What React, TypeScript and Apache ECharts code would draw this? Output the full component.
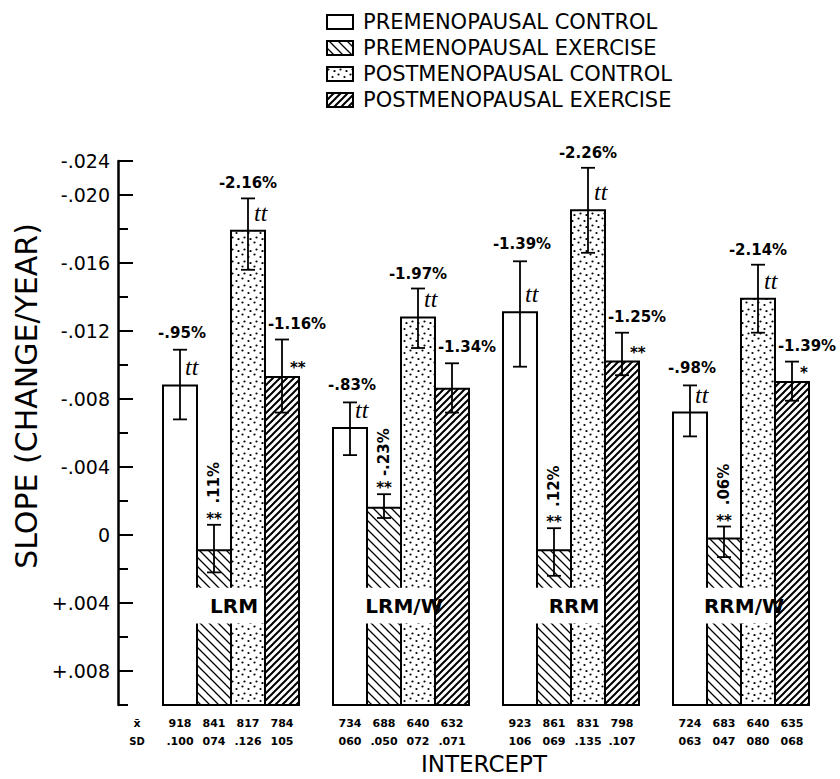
import React, { useEffect, useRef } from "react";
import * as echarts from "echarts";

// ---------------- data ----------------
const categories = ["LRM", "LRM/W", "RRM", "RRM/W"];
const seriesNames = [
  "PREMENOPAUSAL CONTROL",
  "PREMENOPAUSAL EXERCISE",
  "POSTMENOPAUSAL CONTROL",
  "POSTMENOPAUSAL EXERCISE",
];

// slope values (negative = loss, drawn upward) with error-bar ends
const preControl = [-0.0088, -0.0063, -0.0131, -0.0072];
const preControlHi = [-0.0109, -0.0078, -0.0161, -0.0088];
const preControlLo = [-0.0068, -0.0047, -0.0099, -0.0058];

const preExercise = [0.0009, -0.0016, 0.0009, 0.0002];
const preExerciseHi = [-0.0006, -0.0024, -0.0004, -0.0005];
const preExerciseLo = [0.0022, -0.001, 0.0024, 0.0013];

const postControl = [-0.0179, -0.0128, -0.0191, -0.0139];
const postControlHi = [-0.0198, -0.0145, -0.0216, -0.0159];
const postControlLo = [-0.0156, -0.011, -0.0166, -0.0119];

const postExercise = [-0.0093, -0.0086, -0.0102, -0.009];
const postExerciseHi = [-0.0115, -0.0101, -0.0119, -0.0102];
const postExerciseLo = [-0.0072, -0.0072, -0.0094, -0.0079];

// annotations
const pctPreControl = ["-.95%", "-.83%", "-1.39%", "-.98%"];
const pctPreExercise = [".11%", "-.23%", ".12%", ".06%"];
const pctPostControl = ["-2.16%", "-1.97%", "-2.26%", "-2.14%"];
const pctPostExercise = ["-1.16%", "-1.34%", "-1.25%", "-1.39%"];

const sigPreControl = ["tt", "tt", "tt", "tt"];
const sigPreExercise = ["**", "**", "**", "**"];
const sigPostControl = ["tt", "tt", "tt", "tt"];
const sigPostExercise = ["**", "", "**", "*"];

// intercept means and SDs printed under the bars
const meanLabels = [
  ["918", "841", "817", "784"],
  ["734", "688", "640", "632"],
  ["923", "861", "831", "798"],
  ["724", "683", "640", "635"],
];
const sdLabels = [
  [".100", "074", ".126", "105"],
  ["060", ".050", "072", ".071"],
  ["106", "069", ".135", ".107"],
  ["063", "047", "080", "068"],
];

// axis
const yMin = -0.022;
const yMax = 0.01;
const yInterval = 0.002;
const yLabelValues = [-0.022, -0.02, -0.016, -0.012, -0.008, -0.004, 0, 0.004, 0.008];
const yLabelTexts = ["-.024", "-.020", "-.016", "-.012", "-.008", "-.004", "0", "+.004", "+.008"];
const yMajorTicks = [-0.022, -0.02, -0.016, -0.012, -0.008, -0.004, 0, 0.004, 0.008];

// white break in the bars where the measure name sits
const labelGap = [0.0031, 0.0052];
const labelValue = 0.0042;

// ---------------- helpers ----------------
function tile(w: number, h: number, draw: (g: CanvasRenderingContext2D) => void) {
  const c = document.createElement("canvas");
  c.width = w;
  c.height = h;
  const g = c.getContext("2d") as CanvasRenderingContext2D;
  g.fillStyle = "#fff";
  g.fillRect(0, 0, w, h);
  g.fillStyle = "#000";
  g.strokeStyle = "#000";
  draw(g);
  return { image: c.toDataURL(), repeat: "repeat", imageWidth: w, imageHeight: h };
}

function buildPatterns() {
  const back = tile(9, 9, (g) => {
    const s = 9;
    g.lineWidth = 1.3;
    g.beginPath();
    for (let k = -1; k <= 1; k++) {
      g.moveTo(k * s - 2, -2);
      g.lineTo(k * s + s + 2, s + 2);
    }
    g.stroke();
  });
  const fwd = tile(7, 7, (g) => {
    const s = 7;
    g.lineWidth = 2;
    g.beginPath();
    for (let k = 0; k <= 2; k++) {
      g.moveTo(k * s + 2, -2);
      g.lineTo(k * s - s - 2, s + 2);
    }
    g.stroke();
  });
  const dots = tile(12, 12, (g) => {
    const pts = [
      [2.5, 2.5],
      [8.5, 5],
      [4.5, 9.5],
      [10.5, 11],
    ];
    pts.forEach(([x, y]) => {
      g.beginPath();
      g.arc(x, y, 1.1, 0, Math.PI * 2);
      g.fill();
    });
  });
  return ["#fff", back, dots, fwd];
}

const FONT = '"DejaVu Sans", sans-serif';

export default function App() {
  const ref = useRef<HTMLDivElement>(null);

  useEffect(() => {
    if (!ref.current) return;
    const chart = echarts.init(ref.current, null, { renderer: "svg" });
    const fills = buildPatterns();

    const groups = [
      { v: preControl, hi: preControlHi, lo: preControlLo, pct: pctPreControl, sig: sigPreControl },
      { v: preExercise, hi: preExerciseHi, lo: preExerciseLo, pct: pctPreExercise, sig: sigPreExercise },
      { v: postControl, hi: postControlHi, lo: postControlLo, pct: pctPostControl, sig: sigPostControl },
      { v: postExercise, hi: postExerciseHi, lo: postExerciseLo, pct: pctPostExercise, sig: sigPostExercise },
    ];

    const txt = (x: number, y: number, text: string, font: string, align = "center", rotation = 0) => ({
      type: "text",
      x,
      y,
      rotation,
      style: { text, font, fill: "#000", align, verticalAlign: "middle" },
    });

    const barSeries = groups.map((gr, k) => ({
      type: "custom",
      name: seriesNames[k],
      z: 2,
      encode: { x: 0, y: 1 },
      data: categories.map((_, i) => [i, gr.v[i], gr.hi[i], gr.lo[i]]),
      renderItem: (params: any, api: any) => {
        const idx = api.value(0);
        const v = api.value(1);
        const hi = api.value(2);
        const lo = api.value(3);
        const catW = api.size([1, 0])[0];
        const barW = catW * 0.2;
        const cx = api.coord([idx, 0])[0] + (k - 1.5) * barW;
        const yTop = api.coord([idx, v])[1];
        const yBot = api.coord([idx, yMax])[1];
        const yHi = api.coord([idx, hi])[1];
        const yLo = api.coord([idx, lo])[1];
        const ls = { stroke: "#000", lineWidth: 1.8 };
        const children: any[] = [
          {
            type: "rect",
            shape: { x: cx - barW / 2, y: yTop, width: barW, height: yBot - yTop },
            style: { fill: fills[k], stroke: "#000", lineWidth: 2 },
          },
          { type: "line", shape: { x1: cx, y1: yHi, x2: cx, y2: yLo }, style: ls },
          { type: "line", shape: { x1: cx - 7, y1: yHi, x2: cx + 7, y2: yHi }, style: ls },
          { type: "line", shape: { x1: cx - 7, y1: yLo, x2: cx + 7, y2: yLo }, style: ls },
        ];
        const pct = gr.pct[idx];
        const sig = gr.sig[idx];
        const pctFont = `bold 15px ${FONT}`;
        const ttFont = 'italic 24px "Liberation Serif", serif';
        const starFont = `bold 15px ${FONT}`;
        if (k === 0) {
          children.push(txt(cx + 2, yHi - 17, pct, pctFont));
          children.push(txt(cx + 5, yTop - 18, sig, ttFont, "left"));
        } else if (k === 1) {
          children.push(txt(cx, yHi - 6, sig, starFont));
          children.push(txt(cx, yHi - 42, pct, pctFont, "center", Math.PI / 2));
        } else if (k === 2) {
          children.push(txt(cx, yHi - 15, pct, pctFont));
          children.push(txt(cx + 6, yTop - 18, sig, ttFont, "left"));
        } else {
          children.push(txt(cx + 15, yHi - 16, pct, pctFont));
          if (sig) children.push(txt(cx + 8, yTop - 9, sig, starFont, "left"));
        }
        return { type: "group", children };
      },
    }));

    const gapSeries = {
      type: "custom",
      z: 5,
      encode: { x: 0, y: 1 },
      data: categories.map((_, i) => [i, labelValue]),
      renderItem: (params: any, api: any) => {
        const idx = api.value(0);
        const catW = api.size([1, 0])[0];
        const barW = catW * 0.2;
        const gx = api.coord([idx, 0])[0];
        const y1 = api.coord([idx, labelGap[0]])[1];
        const y2 = api.coord([idx, labelGap[1]])[1];
        const yl = api.coord([idx, api.value(1)])[1];
        return {
          type: "group",
          children: [
            {
              type: "rect",
              shape: { x: gx - barW - 1, y: y1, width: 2 * barW, height: y2 - y1 },
              style: { fill: "#fff" },
            },
            txt(gx + 3, yl, categories[idx], `bold 20px ${FONT}`),
          ],
        };
      },
    };

    const tickSeries = {
      type: "custom",
      z: 6,
      encode: { x: 0, y: 1 },
      data: [[0, 0]],
      renderItem: (params: any, api: any) => {
        const axisX = params.coordSys.x - 28;
        return {
          type: "group",
          children: yMajorTicks.map((t) => {
            const y = api.coord([0, t])[1];
            return {
              type: "line",
              shape: { x1: axisX, y1: y, x2: axisX + 15, y2: y },
              style: { stroke: "#000", lineWidth: 2 },
            };
          }),
        };
      },
    };

    const interceptSeries = {
      type: "custom",
      z: 6,
      encode: { x: 0, y: 1 },
      data: categories.map((_, i) => [i, yMax]),
      renderItem: (params: any, api: any) => {
        const idx = api.value(0);
        const catW = api.size([1, 0])[0];
        const barW = catW * 0.2;
        const gx = api.coord([idx, 0])[0];
        const yb = params.coordSys.y + params.coordSys.height;
        const children: any[] = [];
        for (let k = 0; k < 4; k++) {
          const cx = gx + (k - 1.5) * barW;
          children.push(txt(cx, yb + 18, meanLabels[idx][k], `bold 11px ${FONT}`));
          children.push(txt(cx, yb + 36, sdLabels[idx][k], `bold 11px ${FONT}`));
        }
        return { type: "group", children };
      },
    };

    const legendRowsY = [22, 48, 74, 100];
    const legendGraphics: any[] = [];
    seriesNames.forEach((n, i) => {
      legendGraphics.push({
        type: "rect",
        shape: { x: 327, y: legendRowsY[i] - 7, width: 26, height: 14 },
        style: { fill: fills[i], stroke: "#000", lineWidth: 2 },
      });
      legendGraphics.push({
        type: "text",
        x: 363,
        y: legendRowsY[i],
        style: { text: n, font: `21px ${FONT}`, fill: "#000", align: "left", verticalAlign: "middle" },
      });
    });

    const option: any = {
      animation: false,
      backgroundColor: "#fff",
      textStyle: { fontFamily: FONT },
      grid: { left: 146, right: 14, top: 161, bottom: 74, containLabel: false },
      xAxis: {
        type: "category",
        data: categories,
        axisLine: { show: false },
        axisTick: { show: false },
        axisLabel: { show: false },
        splitLine: { show: false },
      },
      yAxis: {
        type: "value",
        inverse: true,
        min: yMin,
        max: yMax,
        interval: yInterval,
        offset: 28,
        axisLine: { show: true, lineStyle: { color: "#000", width: 2.5 } },
        axisTick: { show: true, inside: true, length: 10, lineStyle: { color: "#000", width: 2 } },
        splitLine: { show: false },
        axisLabel: {
          color: "#000",
          fontSize: 19,
          fontFamily: FONT,
          margin: 8,
          formatter: (val: number) => {
            const i = yLabelValues.findIndex((t) => Math.abs(t - val) < 1e-9);
            return i >= 0 ? yLabelTexts[i] : "";
          },
        },
      },
      graphic: [
        ...legendGraphics,
        {
          type: "text",
          x: 26,
          y: 396,
          rotation: Math.PI / 2,
          style: {
            text: "SLOPE (CHANGE/YEAR)",
            font: `30px ${FONT}`,
            fill: "#000",
            align: "center",
            verticalAlign: "middle",
          },
        },
        {
          type: "text",
          x: 484,
          y: 764,
          style: { text: "INTERCEPT", font: `23px ${FONT}`, fill: "#000", align: "center", verticalAlign: "middle" },
        },
        {
          type: "text",
          x: 137,
          y: 723,
          style: { text: "x\u0304", font: `bold 11px ${FONT}`, fill: "#000", align: "center", verticalAlign: "middle" },
        },
        {
          type: "text",
          x: 137,
          y: 741,
          style: { text: "SD", font: `bold 10px ${FONT}`, fill: "#000", align: "center", verticalAlign: "middle" },
        },
      ],
      series: [...barSeries, gapSeries, tickSeries, interceptSeries],
    };

    chart.setOption(option);
    return () => chart.dispose();
  }, []);

  return (
    <div
      ref={ref}
      style={{ position: "absolute", left: 0, top: 0, width: 840, height: 779, background: "#fff" }}
    />
  );
}
